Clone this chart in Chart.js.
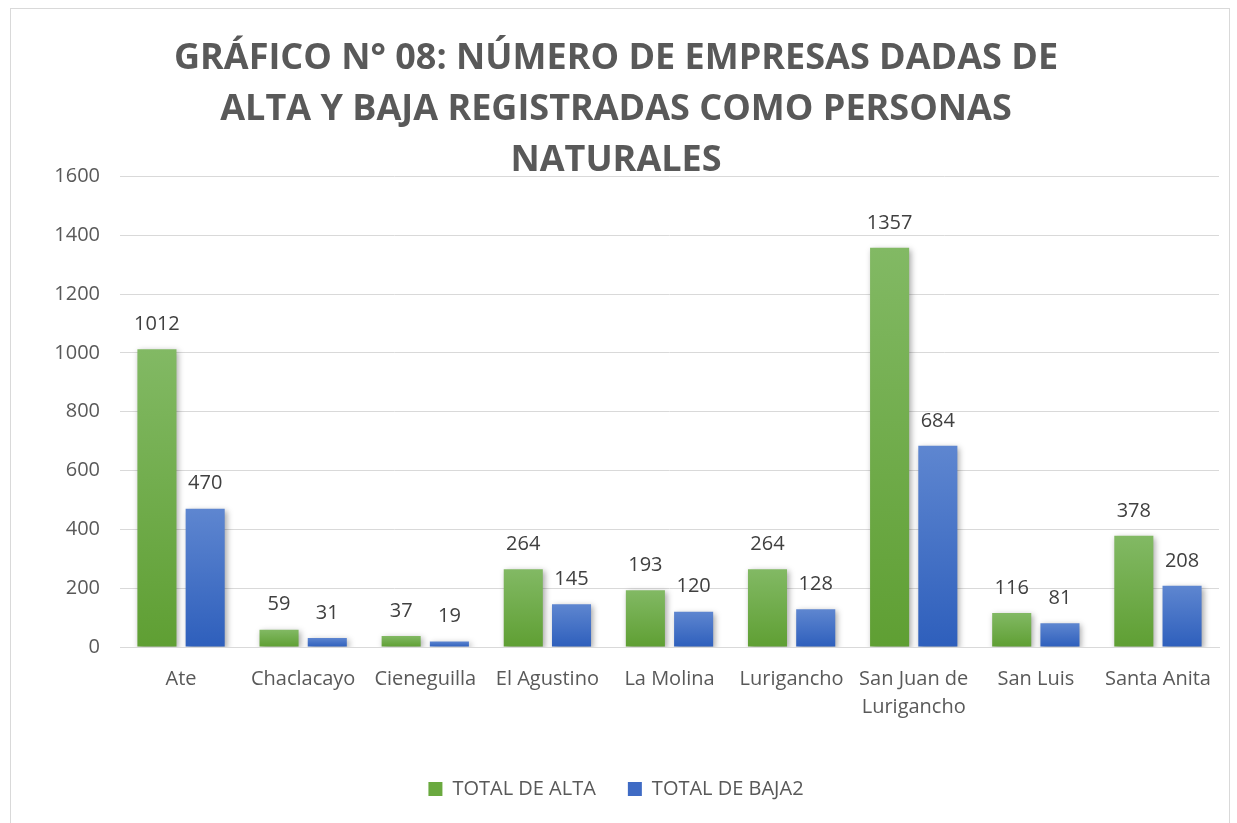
<!DOCTYPE html>
<html>
<head>
    <meta charset="UTF-8">
    <title>Gráfico N° 08</title>
    <script src="https://cdn.jsdelivr.net/npm/chart.js@4.4.1/dist/chart.umd.min.js"></script>
    <style>
        body {
            margin: 0;
            background: #ffffff;
        }
        .chart-box {
            position: absolute;
            left: 10px;
            top: 8px;
            width: 1218px;
            height: 830px;
            border: 1px solid #d9d9d9;
        }
    </style>
</head>
<body>
    <div class="chart-box">
        <canvas id="chart" width="1218" height="830"></canvas>
    </div>

    <script>
        // datos del gráfico
        const distritos = ['Ate', 'Chaclacayo', 'Cieneguilla', 'El Agustino', 'La Molina', 'Lurigancho', ['San Juan de', 'Lurigancho'], 'San Luis', 'Santa Anita'];
        const totalAlta = [1012, 59, 37, 264, 193, 264, 1357, 116, 378];
        const totalBaja = [470, 31, 19, 145, 120, 128, 684, 81, 208];
        const tituloLineas = ['GRÁFICO N° 08: NÚMERO DE EMPRESAS DADAS DE', 'ALTA Y BAJA REGISTRADAS COMO PERSONAS', 'NATURALES'];

        const textColor = '#595959';

        // degradado vertical por barra
        function barGradient(top, bottom) {
            return function (ctx) {
                const chart = ctx.chart;
                if (!chart.chartArea || ctx.raw === undefined) return bottom;
                const y = chart.scales.y;
                const y0 = y.getPixelForValue(ctx.raw);
                const y1 = y.getPixelForValue(0);
                const g = chart.ctx.createLinearGradient(0, y0, 0, y1);
                g.addColorStop(0, top);
                g.addColorStop(1, bottom);
                return g;
            };
        }

        // sombra suave de las barras
        const sombra = {
            id: 'sombra',
            beforeDatasetsDraw(chart) {
                const c = chart.ctx;
                c.save();
                c.shadowColor = 'rgba(0,0,0,0.35)';
                c.shadowBlur = 6;
                c.shadowOffsetX = 2;
                c.shadowOffsetY = 2;
            },
            afterDatasetsDraw(chart) {
                chart.ctx.restore();
            }
        };

        // etiquetas de valores sobre las barras
        const etiquetas = {
            id: 'etiquetas',
            afterDatasetsDraw(chart) {
                const c = chart.ctx;
                c.save();
                c.font = '20px "Open Sans"';
                c.fillStyle = '#404040';
                c.textAlign = 'center';
                c.textBaseline = 'middle';
                chart.data.datasets.forEach((ds, i) => {
                    chart.getDatasetMeta(i).data.forEach((bar, j) => {
                        c.fillText(ds.data[j], bar.x, bar.y - 25);
                    });
                });
                c.restore();
            }
        };

        const solidos = ['#6aa93f', '#3f6bc4'];

        new Chart(document.getElementById('chart'), {
            type: 'bar',
            data: {
                labels: distritos,
                datasets: [
                    {
                        label: 'TOTAL DE ALTA',
                        data: totalAlta,
                        backgroundColor: barGradient('#82b964', '#5f9f33')
                    },
                    {
                        label: 'TOTAL DE BAJA2',
                        data: totalBaja,
                        backgroundColor: barGradient('#5e86d0', '#2e5fbc')
                    }
                ]
            },
            options: {
                responsive: false,
                animation: false,
                layout: {
                    padding: { left: 2, right: 10, top: 0, bottom: 30 }
                },
                datasets: {
                    bar: {
                        categoryPercentage: 0.79,
                        barPercentage: 0.81
                    }
                },
                plugins: {
                    title: {
                        display: true,
                        text: tituloLineas,
                        color: textColor,
                        font: { family: '"Open Sans"', size: 36, weight: 'bold', lineHeight: 1.42 },
                        padding: { top: 24, bottom: -10 }
                    },
                    legend: {
                        position: 'bottom',
                        labels: {
                            color: textColor,
                            font: { family: '"Open Sans"', size: 20 },
                            boxWidth: 14,
                            boxHeight: 14,
                            padding: 32,
                            generateLabels(chart) {
                                const items = Chart.defaults.plugins.legend.labels.generateLabels(chart);
                                items.forEach((it, i) => {
                                    it.fillStyle = solidos[i];
                                    it.strokeStyle = solidos[i];
                                    it.lineWidth = 0;
                                });
                                return items;
                            }
                        }
                    },
                    tooltip: { enabled: false }
                },
                scales: {
                    x: {
                        grid: { display: false },
                        border: { color: '#d9d9d9', width: 1 },
                        ticks: {
                            color: textColor,
                            font: { family: '"Open Sans"', size: 20, lineHeight: 1.4 },
                            padding: 10,
                            maxRotation: 0,
                            autoSkip: false
                        },
                        afterFit(scale) {
                            scale.height = 100;
                        }
                    },
                    y: {
                        min: 0,
                        max: 1600,
                        grid: { color: '#d9d9d9', drawTicks: false },
                        border: { display: false },
                        ticks: {
                            stepSize: 200,
                            color: textColor,
                            font: { family: '"Open Sans"', size: 20 },
                            padding: 20,
                            callback: v => String(v)
                        },
                        afterFit(scale) {
                            scale.width = 107;
                        }
                    }
                }
            },
            plugins: [sombra, etiquetas]
        });
    </script>
</body>
</html>
